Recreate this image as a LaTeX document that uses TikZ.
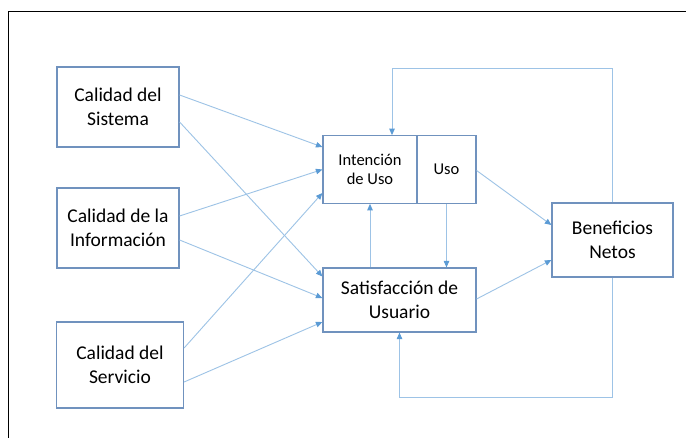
\documentclass[tikz,border=0pt]{standalone}
\usepackage{fontspec}
\setmainfont{Carlito}
\usetikzlibrary{arrows.meta}
\definecolor{boxblue}{RGB}{112,146,190}
\definecolor{linkblue}{RGB}{157,195,230}
\definecolor{tipblue}{RGB}{91,155,213}
\newcommand\bigtxt{\fontsize{19.5}{23.5}\selectfont}
\newcommand\smalltxt{\fontsize{16.5}{18.5}\selectfont}
\begin{document}
\begin{tikzpicture}[x=1pt,y=-1pt,
  box/.style={draw=boxblue,line width=1.2pt,fill=white,align=center,inner sep=0pt,font=\bigtxt},
  sbox/.style={box,font=\smalltxt},
  link/.style={draw=linkblue,line width=0.9pt,-{Triangle[length=6.5pt,width=5.5pt,color=tipblue]}},
  plain/.style={draw=linkblue,line width=0.9pt}]
\useasboundingbox (0,0) rectangle (686,438);
\fill[white] (0,0) rectangle (686,438);
\draw[black,line width=1.1pt] (8.5,438) -- (8.5,11.5) -- (686,11.5);

\node[box,minimum width=122pt,minimum height=80pt] (sis) at (118,107) {Calidad del\\Sistema};
\node[box,minimum width=122pt,minimum height=80pt] (inf) at (118,228) {Calidad de la\\Información};
\node[box,minimum width=127pt,minimum height=86pt] (ser) at (120,365) {Calidad del\\Servicio};
\node[sbox,minimum width=94pt,minimum height=67.5pt] (int) at (370,169.5) {Intención\\de Uso};
\node[sbox,minimum width=59pt,minimum height=67.5pt] (uso) at (446.5,169.5) {Uso};
\node[box,minimum width=153pt,minimum height=64pt] (sat) at (399.5,300) {Satisfacción de\\Usuario};
\node[box,minimum width=121pt,minimum height=74pt] (ben) at (612.5,240) {Beneficios\\Netos};

\coordinate (topL) at (392,68);
\coordinate (botL) at (399.5,397);

\draw[link] ([yshift=12pt]sis.east) -- ([yshift=22.5pt]int.west);
\draw[link] ([yshift=-15pt]sis.east) -- ([yshift=23.5pt]sat.west);
\draw[link] ([yshift=12pt]inf.east) -- (int.west);
\draw[link] ([yshift=-12pt]inf.east) -- ([yshift=2pt]sat.west);
\draw[link] ([yshift=17pt]ser.east) -- ([yshift=-23.5pt]int.west);
\draw[link] ([yshift=-17pt]ser.east) -- ([yshift=-22pt]sat.west);
\draw[link] ([xshift=-29.5pt]sat.north) -- (int.south);
\draw[link] (uso.south) -- (uso.south |- sat.north);
\draw[link] ([yshift=-1pt]uso.east) -- ([yshift=15pt]ben.west);
\draw[link] ([yshift=1pt]sat.east) -- ([yshift=-20pt]ben.west);
\draw[link] (ben.north) |- (topL) -- (topL |- int.north);
\draw[link] (ben.south) |- (botL) -- (sat.south);
\end{tikzpicture}
\end{document}
